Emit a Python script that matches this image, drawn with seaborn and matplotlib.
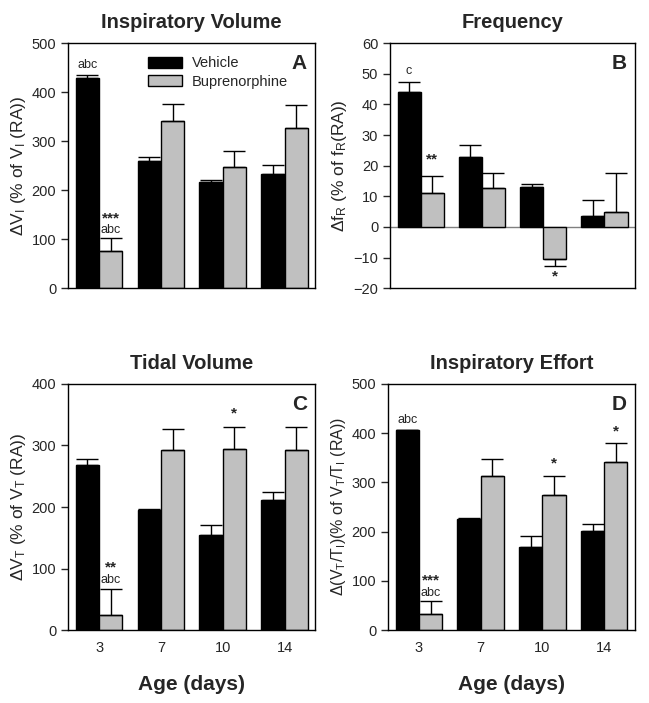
import numpy as np
import pandas as pd
import matplotlib
matplotlib.use("Agg")
import matplotlib.pyplot as plt
import seaborn as sns

ages = ["3", "7", "10", "14"]
groups = ["Vehicle", "Buprenorphine"]

# panel A - inspiratory volume
vi_veh = [430, 260, 216, 233]
vi_veh_sem = [5, 7, 5, 18]
vi_bup = [77, 341, 248, 328]
vi_bup_sem = [25, 35, 32, 46]

# panel B - frequency
fr_veh = [44, 23, 13, 3.5]
fr_veh_sem = [3.2, 3.9, 1, 5.4]
fr_bup = [11, 12.8, -10.6, 4.9]
fr_bup_sem = [5.7, 4.7, 2.1, 12.6]

# panel C - tidal volume
vt_veh = [268, 195, 154, 211]
vt_veh_sem = [10, 2, 16, 14]
vt_bup = [24, 292, 295, 292]
vt_bup_sem = [43, 34, 35, 38]

# panel D - inspiratory effort
ve_veh = [406, 225, 169, 202]
ve_veh_sem = [1, 2, 23, 13]
ve_bup = [32, 314, 275, 341]
ve_bup_sem = [26, 34, 37, 39]

sns.set_style("white")
plt.rcParams["font.family"] = ["Liberation Sans", "DejaVu Sans"]
plt.rcParams["mathtext.fontset"] = "custom"
plt.rcParams["mathtext.rm"] = "Liberation Sans"
plt.rcParams["mathtext.it"] = "Liberation Sans"

fig = plt.figure(figsize=(6.49, 7.03), dpi=100)
axA = fig.add_axes([0.105, 0.590, 0.381, 0.3485])
axB = fig.add_axes([0.601, 0.590, 0.3775, 0.3485])
axC = fig.add_axes([0.105, 0.1038, 0.381, 0.35])
axD = fig.add_axes([0.598, 0.1038, 0.3805, 0.35])

panels = [
    (axA, vi_veh, vi_veh_sem, vi_bup, vi_bup_sem, "Inspiratory Volume", "A",
     r"$\Delta$V$_\mathregular{I}$ (% of V$_\mathregular{I}$ (RA))", (0, 500), 100, 12.5),
    (axB, fr_veh, fr_veh_sem, fr_bup, fr_bup_sem, "Frequency", "B",
     r"$\Delta$f$_\mathregular{R}$ (% of f$_\mathregular{R}$(RA))", (-20, 60), 10, 12.5),
    (axC, vt_veh, vt_veh_sem, vt_bup, vt_bup_sem, "Tidal Volume", "C",
     r"$\Delta$V$_\mathregular{T}$ (% of V$_\mathregular{T}$ (RA))", (0, 400), 100, 12.5),
    (axD, ve_veh, ve_veh_sem, ve_bup, ve_bup_sem, "Inspiratory Effort", "D",
     r"$\Delta$(V$_\mathregular{T}$/T$_\mathregular{I}$)(% of V$_\mathregular{T}$/T$_\mathregular{I}$ (RA))", (0, 500), 100, 11.5),
]

for i, (ax, veh, veh_sem, bup, bup_sem, title, letter, ylab, ylim, step, ysize) in enumerate(panels):
    df = pd.DataFrame({
        "age": ages * 2,
        "group": [groups[0]] * 4 + [groups[1]] * 4,
        "value": veh + bup,
    })
    sns.barplot(data=df, x="age", y="value", hue="group", order=ages, hue_order=groups,
                palette=["black", "#c0c0c0"], edgecolor="black", linewidth=1,
                width=0.755, errorbar=None, legend=(i == 0), ax=ax)
    for cont, sem, vals in zip(ax.containers, [veh_sem, bup_sem], [veh, bup]):
        for bar, s, v in zip(cont, sem, vals):
            xc = bar.get_x() + bar.get_width() / 2
            yerr = [[0], [s]] if v >= 0 else [[s], [0]]
            ax.errorbar(xc, v, yerr=yerr, color="black", lw=1, capsize=8, capthick=1)
    ax.set_ylim(*ylim)
    ax.set_yticks(np.arange(ylim[0], ylim[1] + 1, step))
    ax.set_xlim(-0.5, 3.5)
    ax.set_title(title, fontsize=14.5, fontweight="bold", pad=11)
    ax.set_ylabel(ylab, fontsize=ysize, labelpad=3)
    ax.text(0.965, 0.955, letter, transform=ax.transAxes, ha="right", va="top",
            fontsize=15, fontweight="bold")
    for sp in ax.spines.values():
        sp.set_visible(True)
        sp.set_color("black")
        sp.set_linewidth(1)
    ax.tick_params(axis="y", direction="out", length=5, width=1, labelsize=10.5, left=True)
    ax.tick_params(axis="x", length=0, labelsize=10.5, pad=8)
    if i < 2:
        ax.set_xticklabels([])
        ax.set_xlabel("")
    else:
        ax.set_xlabel("Age (days)", fontsize=15, fontweight="bold", labelpad=14)

axB.axhline(0, color="gray", lw=1, zorder=0.5)

leg = axA.legend(loc="upper left", bbox_to_anchor=(0.27, 1.0), frameon=False,
                 fontsize=10.5, handlelength=2.3, handleheight=0.75,
                 labelspacing=0.3, handletextpad=0.7)


def mark(ax, hue, idx, y, txt, size=9, bold=False):
    bar = ax.containers[hue][idx]
    xc = bar.get_x() + bar.get_width() / 2
    ax.text(xc, y, txt, ha="center", va="center", fontsize=size,
            fontweight="bold" if bold else "normal")


mark(axA, 0, 0, 455, "abc")
mark(axA, 1, 0, 143, "***", 11, True)
mark(axA, 1, 0, 118, "abc")
mark(axB, 0, 0, 51, "c")
mark(axB, 1, 0, 22, "**", 11, True)
mark(axB, 1, 2, -16, "*", 11, True)
mark(axC, 1, 0, 101, "**", 11, True)
mark(axC, 1, 0, 81, "abc")
mark(axC, 1, 2, 352, "*", 11, True)
mark(axD, 0, 0, 427, "abc")
mark(axD, 1, 0, 100, "***", 11, True)
mark(axD, 1, 0, 75, "abc")
mark(axD, 1, 2, 338, "*", 11, True)
mark(axD, 1, 3, 403, "*", 11, True)

fig.savefig("out.png", dpi=100)
